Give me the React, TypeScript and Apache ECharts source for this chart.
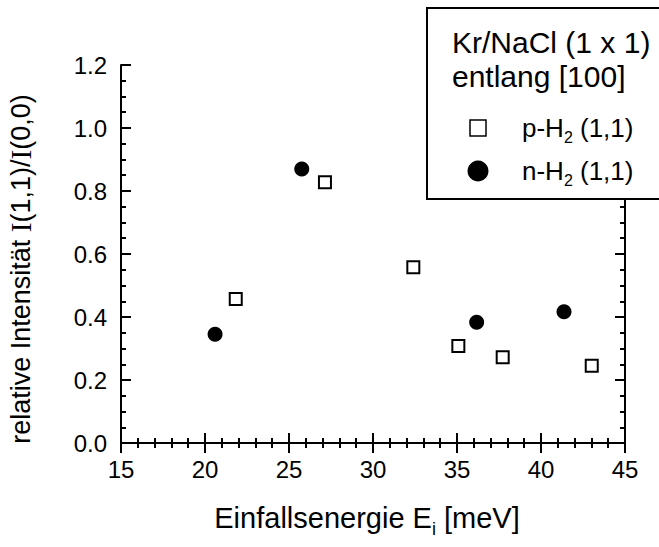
import React, { useEffect, useRef } from "react";
import * as echarts from "echarts";

const pH2X = [21.83, 27.14, 32.4, 35.08, 37.72, 43.02];
const pH2Y = [0.457, 0.828, 0.558, 0.308, 0.272, 0.245];
const nH2X = [20.6, 25.76, 36.17, 41.37];
const nH2Y = [0.345, 0.87, 0.383, 0.417];
const xTicks = [15, 20, 25, 30, 35, 40, 45];
const yTicks = [0.0, 0.2, 0.4, 0.6, 0.8, 1.0, 1.2];

const FONT = "Liberation Sans, Arial, Helvetica, sans-serif";

export default function App() {
  const ref = useRef<HTMLDivElement>(null);
  useEffect(() => {
    document.body.style.margin = "0";
    const chart = echarts.init(ref.current!, undefined, { renderer: "svg" });
    const axisLine = { show: true, lineStyle: { color: "#000", width: 2 } };
    const tick = { show: true, inside: true, length: 10, lineStyle: { color: "#000", width: 2 } };
    const xMinor = { show: true, splitNumber: 5, length: 5, lineStyle: { color: "#000", width: 2 } };
    const yMinor = { show: true, splitNumber: 4, length: 5, lineStyle: { color: "#000", width: 2 } };
    const pts = (xs: number[], ys: number[]) => xs.map((x, i) => [x, ys[i]]);
    const Z = 100;
    chart.setOption({
      animation: false,
      backgroundColor: "#fff",
      grid: { left: 121, right: 34, top: 65, bottom: 104, containLabel: false, outerBoundsMode: "none" },
      xAxis: [
        {
          type: "value",
          min: xTicks[0],
          max: xTicks[xTicks.length - 1],
          interval: 5,
          position: "bottom",
          axisLine,
          axisTick: tick,
          minorTick: xMinor,
          splitLine: { show: false },
          axisLabel: { fontSize: 24, color: "#000", fontFamily: FONT, margin: 14 },
          name: "{a|Einfallsenergie E}{s|i}{a| [meV]}",
          nameLocation: "middle",
          nameGap: 55,
          nameTextStyle: {
            padding: [0, 12, 0, 0],
            rich: {
              a: { fontSize: 29, color: "#000", fontFamily: FONT },
              s: { fontSize: 18, color: "#000", fontFamily: FONT, padding: [22, 0, 0, 0] },
            },
          },
        },
        {
          type: "value",
          min: xTicks[0],
          max: xTicks[xTicks.length - 1],
          interval: 5,
          position: "top",
          axisLine,
          axisTick: tick,
          minorTick: xMinor,
          splitLine: { show: false },
          axisLabel: { show: false },
        },
      ],
      yAxis: [
        {
          type: "value",
          min: yTicks[0],
          max: yTicks[yTicks.length - 1],
          interval: 0.2,
          position: "left",
          axisLine,
          axisTick: tick,
          minorTick: yMinor,
          splitLine: { show: false },
          axisLabel: {
            fontSize: 24,
            color: "#000",
            fontFamily: FONT,
            margin: 14,
            formatter: (v: number) => v.toFixed(1),
          },
          name: "{a|relative Intensität }{s|I}{a|(1,1)/}{s|I}{a|(0,0)}",
          nameLocation: "middle",
          nameGap: 86,
          nameTextStyle: {
            padding: [0, 30, 0, 0],
            rich: {
              a: { fontSize: 27, color: "#000", fontFamily: FONT },
              s: { fontSize: 29, color: "#000", fontFamily: "Liberation Serif, serif" },
            },
          },
        },
        {
          type: "value",
          min: yTicks[0],
          max: yTicks[yTicks.length - 1],
          interval: 0.2,
          position: "right",
          axisLine,
          axisTick: tick,
          minorTick: yMinor,
          splitLine: { show: false },
          axisLabel: { show: false },
        },
      ],
      series: [
        {
          type: "scatter",
          name: "p-H2 (1,1)",
          data: pts(pH2X, pH2Y),
          symbol: "rect",
          symbolSize: 12,
          itemStyle: { color: "#fff", borderColor: "#000", borderWidth: 2, opacity: 1 },
        },
        {
          type: "scatter",
          name: "n-H2 (1,1)",
          data: pts(nH2X, nH2Y),
          symbol: "circle",
          symbolSize: 15,
          itemStyle: { color: "#000", opacity: 1 },
        },
      ],
      graphic: [
        {
          type: "rect",
          z: Z,
          shape: { x: 427, y: 8, width: 250, height: 191 },
          style: { fill: "#fff", stroke: "#000", lineWidth: 2 },
        },
        {
          type: "text",
          z: Z + 1,
          x: 452,
          y: 42,
          style: { text: "Kr/NaCl (1 x 1)", font: `30px ${FONT}`, fill: "#000", verticalAlign: "middle" },
        },
        {
          type: "text",
          z: Z + 1,
          x: 452,
          y: 76,
          style: { text: "entlang [100]", font: `30px ${FONT}`, fill: "#000", verticalAlign: "middle" },
        },
        {
          type: "rect",
          z: Z + 1,
          shape: { x: 470, y: 120, width: 16, height: 16 },
          style: { fill: "#fff", stroke: "#000", lineWidth: 1.5 },
        },
        {
          type: "circle",
          z: Z + 1,
          shape: { cx: 478, cy: 171, r: 10.5 },
          style: { fill: "#000" },
        },
        {
          type: "text",
          z: Z + 1,
          x: 522,
          y: 128,
          style: {
            text: "{a|p-H}{s|2}{a| (1,1)}",
            verticalAlign: "middle",
            rich: {
              a: { fontSize: 26, fill: "#000", fontFamily: FONT },
              s: { fontSize: 16, fill: "#000", fontFamily: FONT, padding: [18, 0, 0, 0] },
            },
          },
        },
        {
          type: "text",
          z: Z + 1,
          x: 522,
          y: 171,
          style: {
            text: "{a|n-H}{s|2}{a| (1,1)}",
            verticalAlign: "middle",
            rich: {
              a: { fontSize: 26, fill: "#000", fontFamily: FONT },
              s: { fontSize: 16, fill: "#000", fontFamily: FONT, padding: [18, 0, 0, 0] },
            },
          },
        },
      ],
    });
    return () => chart.dispose();
  }, []);
  return (
    <div
      ref={ref}
      style={{ position: "absolute", left: 0, top: 0, width: 659, height: 547 }}
    />
  );
}
